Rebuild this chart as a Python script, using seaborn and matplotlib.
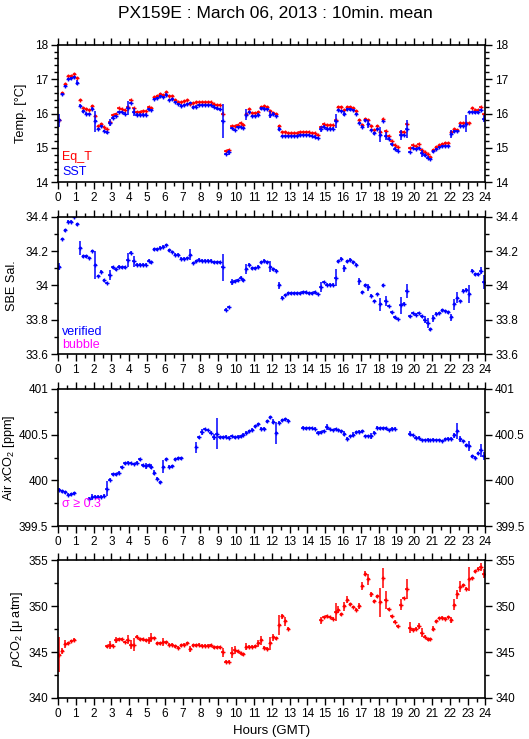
import numpy as np
import pandas as pd
import matplotlib
matplotlib.use("Agg")
import matplotlib.pyplot as plt
import seaborn as sns
from matplotlib.ticker import MultipleLocator, FuncFormatter

nan = np.nan

# 10-minute means, one row per hour (6 values each)
sst = [
    15.80, 16.57, 16.80, 17.00, 17.02, 17.06,
    16.90, 16.23, 16.06, 16.00, 15.98, 16.14,
    15.77, 15.55, 15.63, 15.50, 15.45, 15.73,
    15.88, 15.92, 16.05, 16.05, 16.00, 16.15,
    16.30, 16.04, 15.97, 15.97, 15.97, 15.97,
    16.12, 16.10, 16.42, 16.45, 16.50, 16.48,
    16.55, 16.40, 16.42, 16.33, 16.28, 16.23,
    16.25, 16.27, 16.30, 16.18, 16.20, 16.24,
    16.24, 16.24, 16.24, 16.24, 16.20, 16.15,
    16.12, 15.78, 14.83, 14.87, 15.58, 15.52,
    15.60, 15.60, 15.58, 15.97, 16.05, 15.93,
    15.93, 15.97, 16.15, 16.14, 16.13, 15.97,
    16.00, 15.92, 15.55, 15.34, 15.34, 15.34,
    15.34, 15.34, 15.34, 15.37, 15.37, 15.37,
    15.37, 15.34, 15.33, 15.28, 15.55, 15.62,
    15.56, 15.56, 15.56, 15.78, 16.10, 16.08,
    16.00, 16.12, 16.12, 16.10, 15.98, 15.72,
    15.62, 15.80, 15.70, 15.52, 15.42, 15.55,
    15.38, 15.78, 15.35, 15.27, 15.10, 14.98,
    14.92, 15.38, 15.38, 15.55, 14.88, 15.00,
    14.97, 15.00, 14.85, 14.78, 14.72, 14.68,
    14.90, 14.96, 15.02, 15.05, 15.05, 15.05,
    15.40, 15.48, 15.50, 15.65, 15.63, 15.70,
    16.05, 16.05, 16.03, 16.03, 16.10, 15.85,
]
eq_t = [
    15.80, 16.60, 16.85, 17.08, 17.10, 17.15,
    17.03, 16.38, 16.15, 16.12, 16.10, 16.23,
    15.92, 15.63, 15.70, 15.60, 15.55, 15.75,
    15.97, 16.00, 16.15, 16.12, 16.10, 16.20,
    16.38, 16.15, 16.05, 16.05, 16.07, 16.07,
    16.20, 16.15, 16.47, 16.52, 16.57, 16.55,
    16.62, 16.52, 16.50, 16.38, 16.33, 16.33,
    16.35, 16.38, 16.28, 16.30, 16.33, 16.33,
    16.33, 16.33, 16.33, 16.33, 16.28, 16.25,
    16.25, 16.00, 14.92, 14.95, 15.63, 15.63,
    15.66, 15.73, 15.68, 16.00, 16.12, 16.02,
    16.02, 16.05, 16.20, 16.22, 16.20, 16.08,
    16.02, 16.00, 15.65, 15.47, 15.45, 15.42,
    15.43, 15.43, 15.42, 15.45, 15.47, 15.47,
    15.47, 15.43, 15.43, 15.38, 15.60, 15.70,
    15.66, 15.66, 15.66, 15.80, 16.20, 16.20,
    16.10, 16.20, 16.20, 16.15, 16.08, 15.82,
    15.68, 15.85, 15.82, 15.65, 15.52, 15.65,
    15.45, 15.83, 15.50, 15.35, 15.20, 15.08,
    15.02, 15.45, 15.47, 15.70, 15.00, 15.08,
    15.05, 15.10, 14.95, 14.87, 14.82, 14.75,
    14.95, 15.03, 15.08, 15.12, 15.15, 15.13,
    15.45, 15.55, 15.53, 15.72, 15.72, 15.72,
    15.72, 16.15, 16.10, 16.10, 16.18, 15.98,
]
sal = [
    34.110, 34.270, 34.320, 34.370, 34.370, 34.400,
    34.355, 34.220, 34.170, 34.170, 34.160, 34.200,
    34.120, 34.055, 34.080, 34.030, 34.015, 34.060,
    34.105, 34.095, 34.110, 34.105, 34.105, 34.150,
    34.190, 34.140, 34.120, 34.120, 34.120, 34.120,
    34.145, 34.135, 34.210, 34.210, 34.220, 34.225,
    34.235, 34.205, 34.195, 34.180, 34.180, 34.155,
    34.155, 34.160, 34.180, 34.130, 34.140, 34.150,
    34.145, 34.145, 34.145, 34.145, 34.135, 34.135,
    34.135, 34.105, 33.860, 33.875, 34.020, 34.025,
    34.030, 34.045, 34.030, 34.095, 34.120, 34.100,
    34.100, 34.110, 34.135, 34.145, 34.135, 34.110,
    34.095, 34.085, 34.000, 33.930, 33.945, 33.955,
    33.955, 33.955, 33.955, 33.955, 33.960, 33.960,
    33.955, 33.955, 33.960, 33.950, 33.990, 34.020,
    34.005, 34.005, 34.005, 34.045, 34.140, 34.155,
    34.100, 34.140, 34.150, 34.135, 34.120, 34.025,
    33.960, 34.000, 33.990, 33.940, 33.910, 33.950,
    33.890, 34.000, 33.910, 33.880, 33.845, 33.815,
    33.805, 33.885, 33.895, 33.970, 33.820, 33.840,
    33.830, 33.840, 33.820, 33.800, 33.780, 33.745,
    33.810, 33.835, 33.840, 33.855, 33.852, 33.845,
    33.815, 33.890, 33.930, 33.910, 33.970, 33.975,
    33.950, 34.085, 34.065, 34.065, 34.085, 34.020,
]
air_xco2 = [
    399.900, 399.880, 399.870, 399.845, 399.850, 399.860,
    nan, nan, nan, nan, 399.800, 399.820,
    399.825, 399.825, 399.825, 399.835, 399.910, 400.010,
    400.065, 400.065, 400.085, 400.145, 400.185, 400.195,
    400.190, 400.180, 400.195, 400.230, 400.165, 400.155,
    400.165, 400.150, 400.085, 400.020, 399.980, 400.150,
    400.230, 400.150, 400.155, 400.230, 400.240, 400.240,
    nan, nan, nan, nan, 400.360, 400.470,
    400.530, 400.560, 400.550, 400.520, 400.475, 400.510,
    400.470, 400.470, 400.475, 400.465, 400.485, 400.470,
    400.475, 400.480, 400.500, 400.520, 400.535, 400.555,
    400.590, 400.610, 400.565, 400.565, 400.645, 400.690,
    400.640, 400.520, 400.630, 400.655, 400.665, 400.650,
    nan, nan, nan, nan, 400.575, 400.570,
    400.572, 400.572, 400.565, 400.520, 400.525, 400.540,
    400.585, 400.560, 400.550, 400.560, 400.550, 400.535,
    400.510, 400.455, 400.485, 400.500, 400.525, 400.530,
    400.535, 400.485, 400.485, 400.485, 400.520, 400.575,
    400.570, 400.570, 400.570, 400.550, 400.565, 400.565,
    nan, nan, nan, nan, 400.510, 400.495,
    400.465, 400.465, 400.440, 400.440, 400.445, 400.440,
    400.445, 400.440, 400.440, 400.430, 400.450, 400.455,
    400.455, 400.490, 400.540, 400.450, 400.430, 400.385,
    400.375, 400.265, 400.250, 400.295, 400.330, 400.265,
]
pco2 = [
    344.70, 345.10, 345.87, 345.94, 346.20, 346.37,
    nan, nan, nan, nan, nan, nan,
    nan, nan, nan, nan, 345.65, 345.76,
    345.70, 346.30, 346.40, 346.40, 346.10, 346.37,
    345.83, 345.83, 346.67, 346.40, 346.40, 346.30,
    346.30, 346.55, 346.55, 345.94, 345.94, 346.10,
    346.05, 345.83, 345.83, 345.65, 345.50, 345.76,
    345.83, 345.94, 345.33, 345.76, 345.76, 345.83,
    345.72, 345.72, 345.72, 345.76, 345.54, 345.54,
    345.54, 345.00, 343.95, 343.95, 344.93, 345.22,
    345.10, 344.86, 344.78, 345.58, 345.58, 345.58,
    345.65, 345.94, 346.30, 345.50, 345.36, 345.94,
    346.60, 346.50, 348.00, 348.90, 348.37, 347.57,
    nan, nan, nan, nan, nan, nan,
    nan, nan, nan, nan, 348.48, 348.84,
    348.95, 348.84, 348.66, 349.38, 349.64, 349.13,
    350.00, 350.72, 350.20, 349.93, 349.64, 350.04,
    352.20, 353.55, 352.93, 351.30, 350.54, 351.10,
    350.43, 353.10, 350.65, 349.67, 348.90, 348.30,
    347.83, 350.18, 350.90, 351.85, 347.68, 347.46,
    347.57, 347.83, 347.10, 346.67, 346.41, 346.41,
    347.57, 348.37, 348.73, 348.77, 348.66, 348.84,
    348.48, 350.18, 351.30, 352.10, 352.28, 351.92,
    353.00, 353.08, 353.80, 354.10, 354.28, 353.55,
]

# standard deviations larger than the default (slot index -> sd)
sst_sd = {0: 0.2, 6: 0.06, 12: 0.3, 17: 0.1, 23: 0.2, 25: 0.12, 55: 0.5, 57: 0.08,
          63: 0.15, 71: 0.1, 74: 0.06, 88: 0.08, 93: 0.2, 96: 0.06, 104: 0.12,
          108: 0.22, 110: 0.12, 115: 0.15, 117: 0.25, 122: 0.1, 132: 0.12, 137: 0.25, 143: 0.1}
eq_sd = {0: 0.05, 55: 0.05}
sal_sd = {0: 0.02, 7: 0.04, 12: 0.08, 17: 0.03, 23: 0.04, 25: 0.03, 44: 0.03, 55: 0.08,
          58: 0.02, 63: 0.03, 71: 0.03, 74: 0.02, 88: 0.03, 93: 0.05, 96: 0.02,
          101: 0.02, 104: 0.02, 108: 0.04, 110: 0.03, 115: 0.05, 117: 0.04, 123: 0.02,
          124: 0.03, 126: 0.02, 132: 0.02, 133: 0.03, 134: 0.03, 138: 0.05, 142: 0.02, 143: 0.04}
air_sd = {11: 0.03, 16: 0.08, 29: 0.03, 31: 0.03, 32: 0.03, 35: 0.07, 46: 0.06, 48: 0.03,
          52: 0.03, 53: 0.17, 73: 0.12, 72: 0.03, 90: 0.03, 96: 0.03, 99: 0.03,
          105: 0.03, 118: 0.03, 133: 0.03, 134: 0.09, 135: 0.03, 138: 0.05, 142: 0.07, 143: 0.04}
pco2_sd = {0: 1.9, 1: 0.35, 2: 0.4, 17: 0.4, 19: 0.3, 23: 0.5, 24: 0.5, 25: 0.7, 30: 0.4,
           31: 0.5, 35: 0.4, 44: 0.35, 55: 0.5, 58: 0.6, 59: 0.4, 63: 0.4, 67: 0.35,
           68: 0.5, 71: 0.7, 72: 0.4, 74: 1.1, 75: 0.3, 76: 0.5, 88: 0.4, 93: 1.0, 94: 0.35,
           96: 0.5, 97: 0.4, 101: 0.35, 102: 0.4, 103: 0.25, 104: 0.6, 105: 0.3, 108: 1.6,
           109: 1.1, 110: 1.0, 115: 0.6, 117: 1.1, 118: 0.6, 121: 0.3, 122: 0.5, 126: 0.3,
           132: 0.35, 133: 0.6, 134: 0.5, 135: 0.6, 138: 1.3, 142: 0.4, 143: 0.5}

hours = np.arange(len(sst)) / 6 + 1 / 12


def sd_array(n, default, big):
    s = np.full(n, default)
    for i, v in big.items():
        s[i] = v
    return s


df = pd.DataFrame({"hour": hours, "sst": sst, "eq_t": eq_t, "sal": sal,
                   "air": air_xco2, "pco2": pco2})

sns.set_style("ticks")
plt.rcParams["font.family"] = ["Liberation Sans", "DejaVu Sans"]
plt.rcParams["mathtext.fontset"] = "custom"
plt.rcParams["mathtext.rm"] = "Liberation Sans"
plt.rcParams["mathtext.it"] = "Liberation Sans:italic"
for k in ["text.color", "axes.labelcolor", "xtick.color", "ytick.color", "axes.edgecolor"]:
    plt.rcParams[k] = "black"

fig = plt.figure(figsize=(5.29, 7.39), dpi=100)
fig.text(0.52, 0.982, "PX159E : March 06, 2013 : 10min. mean", ha="center", va="center", fontsize=12.5)

left, width, height = 0.1096, 0.808, 0.1862
bottoms = [0.7533, 0.5206, 0.2878, 0.0555]
axes = [fig.add_axes([left, b, width, height]) for b in bottoms]

panels = [
    # (columns, colors, sd dicts, defaults, ylim, major, minor, ylabel, label x)
    (["eq_t", "sst"], ["red", "blue"], [eq_sd, sst_sd], [0.012, 0.035], (14, 18), 1, 0.2,
     "Temp. [°C]", -0.072),
    (["sal"], ["blue"], [sal_sd], [0.008], (33.6, 34.4), 0.2, 0.1, "SBE Sal.", -0.094),
    (["air"], ["blue"], [air_sd], [0.015], (399.5, 401), 0.5, 0.25,
     r"Air $\it{x}$CO$_2$ [ppm]", -0.097),
    (["pco2"], ["red"], [pco2_sd], [0.15], (340, 355), 5, 2.5,
     r"$\it{p}$CO$_2$ [μ atm]", -0.078),
]

fmt = FuncFormatter(lambda v, pos: f"{round(v, 6):g}")

for ax, (cols, colors, sds, defaults, ylim, major, minor, ylabel, lx) in zip(axes, panels):
    for col, c, big, d in zip(cols, colors, sds, defaults):
        err = sd_array(len(df), d, big)
        ax.errorbar(df["hour"], df[col], xerr=1 / 12, yerr=err, fmt="none",
                    ecolor=c, elinewidth=1.1, capsize=0)
        sns.scatterplot(data=df, x="hour", y=col, color=c, s=10, marker="+",
                        linewidth=1.0, ax=ax, legend=False)
    ax.set_xlim(0, 24)
    ax.set_ylim(*ylim)
    ax.xaxis.set_major_locator(MultipleLocator(1))
    ax.xaxis.set_minor_locator(MultipleLocator(0.5))
    ax.yaxis.set_major_locator(MultipleLocator(major))
    ax.yaxis.set_minor_locator(MultipleLocator(minor))
    ax.yaxis.set_major_formatter(fmt)
    ax.set_xticks(range(0, 25))
    ax.set_xticklabels([str(h) for h in range(0, 25)])
    ax.tick_params(which="both", direction="out", top=True, right=True,
                   labelright=True, labelsize=8.5, width=1, color="black",
                   labelcolor="black", pad=2)
    ax.tick_params(which="major", length=5)
    ax.tick_params(which="minor", length=3)
    for sp in ax.spines.values():
        sp.set_visible(True)
        sp.set_linewidth(1.2)
        sp.set_color("black")
    ax.set_xlabel("")
    ax.set_ylabel(ylabel, fontsize=9.2)
    ax.yaxis.set_label_coords(lx, 0.5)

axes[0].text(0.01, 0.185, "Eq_T", color="red", transform=axes[0].transAxes, fontsize=9, va="center")
axes[0].text(0.01, 0.075, "SST", color="blue", transform=axes[0].transAxes, fontsize=9, va="center")
axes[1].text(0.01, 0.165, "verified", color="blue", transform=axes[1].transAxes, fontsize=9, va="center")
axes[1].text(0.01, 0.07, "bubble", color="magenta", transform=axes[1].transAxes, fontsize=9, va="center")
axes[2].text(0.01, 0.16, "σ ≥ 0.3", color="magenta", transform=axes[2].transAxes, fontsize=9, va="center")
axes[3].set_xlabel("Hours (GMT)", fontsize=9.5, labelpad=4)

fig.savefig("out.png", dpi=100)
